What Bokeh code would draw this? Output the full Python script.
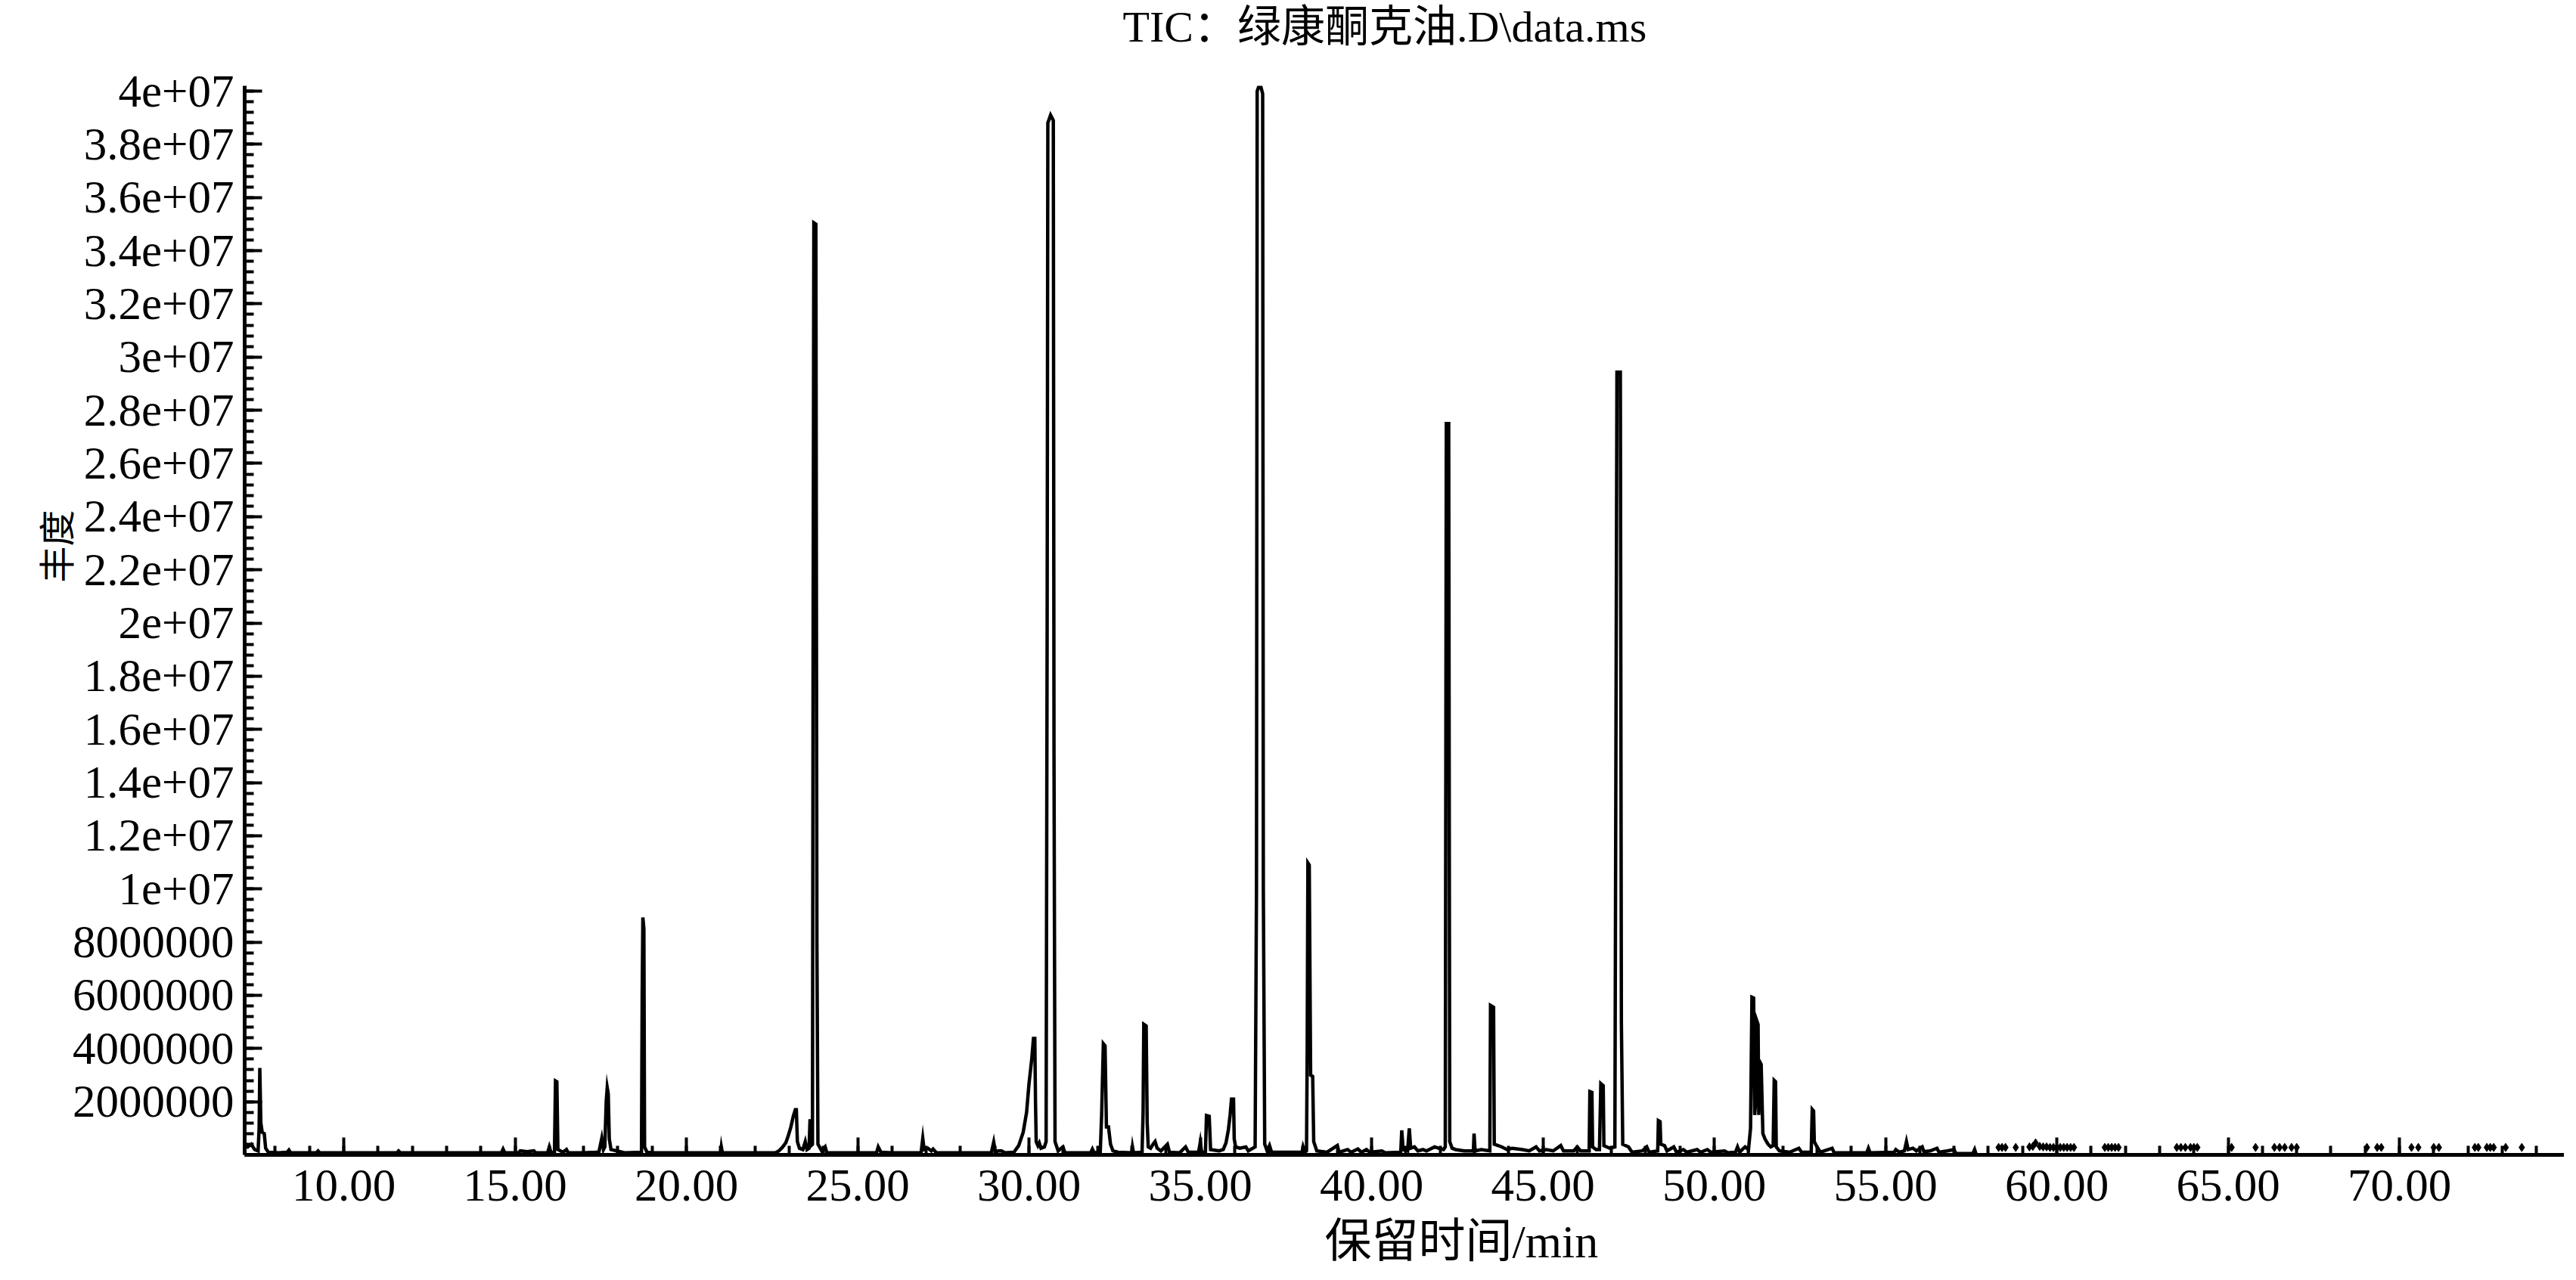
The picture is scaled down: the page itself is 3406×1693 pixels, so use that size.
import math
from bokeh.plotting import figure
from bokeh.models import (Range1d, FixedTicker, PrintfTickFormatter, Title,
                          ColumnDataSource)
from bokeh.embed import file_html
from bokeh.resources import INLINE

# ---------------- data ----------------
title_text = "TIC：绿康酮克油.D\\data.ms"
x_label_text = "保留时间/min"
y_label_text = "丰度"

# trace vertices: retention time (min) and abundance (millions of counts)
rt = [7.11, 7.20, 7.30, 7.40, 7.50, 7.53, 7.55, 7.58, 7.62, 7.68, 7.72, 7.80, 8.10, 8.35, 8.40, 8.45,
      9.20, 9.25, 9.30, 11.55, 11.60, 11.65, 14.60, 14.65, 14.70, 15.10, 15.15, 15.35, 15.55, 15.60,
      15.95, 16.00, 16.05, 16.15, 16.18, 16.22, 16.25, 16.40, 16.50, 16.55,
      17.00, 17.35, 17.45, 17.53, 17.58, 17.62, 17.66, 17.69, 17.72, 17.75, 17.80, 18.20, 18.69, 18.71,
      18.73, 18.76, 18.78, 18.85, 19.00, 21.00, 21.02, 21.05, 22.60, 22.70, 22.80, 22.90, 22.97, 23.05,
      23.12, 23.18, 23.21, 23.24, 23.30, 23.40, 23.47, 23.52, 23.58, 23.61, 23.64, 23.68, 23.70, 23.72,
      23.78, 23.81, 23.84, 23.95, 24.05, 24.10,
      25.00, 25.55, 25.60, 25.68, 26.00, 26.85, 26.90, 26.94, 27.05, 27.15, 27.20, 27.30, 28.90, 28.97,
      29.02, 29.10, 29.20, 29.30,
      29.56, 29.70, 29.83, 29.93, 30.00, 30.08, 30.13, 30.17, 30.19, 30.21, 30.26, 30.30, 30.35, 30.45,
      30.50, 30.53, 30.55, 30.63, 30.71, 30.73, 30.76, 30.85, 30.99, 31.05,
      31.80, 31.85, 31.90, 32.08, 32.12, 32.17, 32.22, 32.26, 32.32, 32.38, 32.45, 32.60, 33.00, 33.02,
      33.05, 33.30, 33.33, 33.35, 33.42, 33.45, 33.48, 33.55, 33.62, 33.68, 33.74, 33.85, 34.04, 34.10,
      34.40, 34.57, 34.65, 34.95, 35.00, 35.04, 35.15, 35.18, 35.26, 35.30, 35.55, 35.67, 35.75, 35.82,
      35.87, 35.91, 35.97, 35.99, 36.03, 36.15, 36.33, 36.40, 36.60, 36.64, 36.66, 36.74, 36.82, 36.84,
      36.88, 36.95, 37.02, 37.08,
      37.97, 38.00, 38.05, 38.10, 38.12, 38.14, 38.18, 38.22, 38.28, 38.31, 38.40, 38.70, 39.00, 39.05,
      39.30, 39.40, 39.60, 39.70, 39.85, 39.95, 40.30, 40.40,
      40.85, 40.88, 40.92, 41.05, 41.10, 41.14, 41.25, 41.35, 41.50, 41.60, 41.84, 41.95, 42.10, 42.15,
      42.18, 42.25, 42.28, 42.35, 42.45, 42.70, 42.97, 42.99, 43.02, 43.20, 43.45, 43.47, 43.56, 43.58,
      43.80, 43.95, 44.10, 44.40, 44.60, 44.80, 44.90, 45.10, 45.30, 45.52, 45.60, 45.90, 46.00, 46.10,
      46.35, 46.37, 46.43, 46.45, 46.55, 46.65, 46.69, 46.76, 46.78, 46.95, 47.10, 47.13, 47.16, 47.26,
      47.29, 47.33, 47.50, 47.60,
      47.90, 48.03, 48.10, 48.35, 48.37, 48.42, 48.44, 48.55, 48.62, 48.82, 48.90, 49.10, 49.20, 49.50,
      49.60, 49.80, 49.90, 50.30, 50.40, 50.62, 50.68, 50.74, 50.90, 51.00, 51.06, 51.10, 51.15, 51.18,
      51.21, 51.24, 51.28, 51.30, 51.33, 51.37, 51.42, 51.48, 51.57, 51.65, 51.72, 51.75, 51.79, 51.81,
      51.90, 52.20, 52.47, 52.55, 52.83, 52.86, 52.90, 52.92, 53.00, 53.10, 53.44, 53.50, 54.45, 54.50,
      54.55, 55.25, 55.30, 55.40, 55.55, 55.61, 55.66, 55.80, 55.90, 56.07, 56.12, 56.30, 56.50, 56.56,
      56.80, 57.00, 57.05, 57.55, 57.60, 57.65, 74.99]

abund_m = [0.45, 0.30, 0.40, 0.20, 0.15, 1.00, 3.27, 1.20, 0.85, 0.80, 0.25, 0.10, 0.08, 0.10, 0.18, 0.08,
           0.08, 0.15, 0.08, 0.08, 0.15, 0.08, 0.08, 0.22, 0.08, 0.08, 0.15, 0.12, 0.15, 0.08,
           0.08, 0.30, 0.08, 0.10, 2.78, 2.75, 0.20, 0.10, 0.20, 0.08,
           0.08, 0.10, 0.12, 0.62, 0.20, 0.30, 2.00, 2.53, 2.30, 0.60, 0.20, 0.08, 0.10, 6.00,
           8.93, 8.50, 0.30, 0.10, 0.08, 0.08, 0.30, 0.08, 0.08, 0.15, 0.28, 0.45, 0.70, 1.05,
           1.45, 1.70, 1.70, 0.50, 0.25, 0.20, 0.50, 0.20, 0.25, 1.34, 0.35, 0.40, 20.0, 35.05,
           35.00, 8.00, 0.40, 0.15, 0.30, 0.08,
           0.08, 0.08, 0.30, 0.10, 0.08, 0.08, 0.62, 0.20, 0.25, 0.15, 0.22, 0.08, 0.08, 0.48,
           0.10, 0.15, 0.15, 0.08,
           0.10, 0.35, 0.85, 1.60, 2.67, 3.60, 4.38, 4.38, 2.00, 0.50, 0.35, 0.45, 0.25, 0.30,
           0.50, 20.0, 38.8, 39.1, 38.9, 15.0, 0.50, 0.15, 0.30, 0.08,
           0.08, 0.22, 0.08, 0.10, 1.50, 4.18, 4.10, 1.05, 1.05, 0.40, 0.15, 0.10, 0.08, 0.30,
           0.08, 0.10, 1.60, 4.91, 4.85, 1.20, 0.30, 0.25, 0.40, 0.50, 0.25, 0.15, 0.40, 0.10,
           0.08, 0.30, 0.10, 0.10, 0.48, 0.10, 0.10, 1.48, 1.45, 0.20, 0.15, 0.20, 0.45, 0.95,
           1.50, 2.10, 2.10, 0.60, 0.30, 0.25, 0.30, 0.15, 0.30, 10.0, 40.0, 40.3, 39.9, 10.0,
           0.40, 0.15, 0.35, 0.10,
           0.10, 0.30, 0.10, 0.15, 4.00, 10.98, 10.90, 3.00, 2.95, 0.50, 0.15, 0.10, 0.35, 0.10,
           0.20, 0.10, 0.22, 0.10, 0.20, 0.10, 0.15, 0.08,
           0.10, 0.92, 0.20, 0.15, 1.00, 0.25, 0.30, 0.15, 0.20, 0.15, 0.30, 0.25, 0.20, 0.30,
           27.5, 27.5, 0.50, 0.25, 0.20, 0.15, 0.15, 0.80, 0.15, 0.20, 0.15, 5.62, 5.55, 0.40,
           0.30, 0.20, 0.25, 0.20, 0.15, 0.30, 0.15, 0.20, 0.15, 0.35, 0.15, 0.15, 0.30, 0.15,
           0.15, 2.38, 2.35, 0.30, 0.20, 0.20, 2.68, 2.60, 0.35, 0.25, 0.30, 15.0, 29.43, 29.43,
           5.00, 0.40, 0.30, 0.10,
           0.15, 0.30, 0.10, 0.15, 1.29, 1.25, 0.40, 0.35, 0.15, 0.30, 0.10, 0.20, 0.10, 0.20,
           0.10, 0.20, 0.10, 0.15, 0.08, 0.10, 0.30, 0.10, 0.30, 0.20, 1.00, 5.93, 5.90, 1.50,
           2.00, 5.05, 4.90, 1.50, 3.50, 3.40, 0.80, 0.60, 0.40, 0.30, 0.35, 2.80, 2.75, 0.30,
           0.15, 0.10, 0.25, 0.10, 0.10, 1.71, 1.65, 0.50, 0.30, 0.10, 0.25, 0.08, 0.08, 0.25,
           0.08, 0.10, 0.20, 0.10, 0.15, 0.50, 0.20, 0.25, 0.15, 0.30, 0.12, 0.15, 0.25, 0.10,
           0.15, 0.20, 0.05, 0.05, 0.20, 0.00, 0.00]

# isolated data points after 58 min (drawn as small dots just above the baseline)
dots_rt = [58.30, 58.40, 58.50, 58.80, 59.20, 59.30, 59.38, 59.50, 59.60, 59.70, 59.80, 59.90, 60.00,
           60.10, 60.20, 60.30, 60.40, 60.50, 61.40, 61.50, 61.60, 61.70, 61.80, 63.50, 63.62, 63.75,
           63.90, 64.00, 64.10, 65.10, 65.80, 66.35, 66.50, 66.65, 66.85, 67.00, 69.05, 69.35, 69.47,
           70.35, 70.55, 71.00, 71.15, 72.20, 72.30, 72.55, 72.65, 72.75, 73.10, 73.57]
dots_abund_m = [0.28, 0.28, 0.28, 0.28, 0.30, 0.32, 0.45, 0.32, 0.30, 0.30, 0.28, 0.28, 0.28,
                0.28, 0.28, 0.28, 0.28, 0.28, 0.28, 0.28, 0.28, 0.28, 0.28, 0.28, 0.28, 0.28,
                0.28, 0.28, 0.28, 0.28, 0.28, 0.28, 0.28, 0.28, 0.28, 0.28, 0.28, 0.28, 0.28,
                0.28, 0.28, 0.28, 0.28, 0.28, 0.28, 0.28, 0.28, 0.28, 0.28, 0.28]

x_major_ticks = [10, 15, 20, 25, 30, 35, 40, 45, 50, 55, 60, 65, 70]
x_minor_ticks = list(range(8, 75))
y_major_ticks = [0, 2000000, 4000000, 6000000, 8000000, 10000000, 12000000, 14000000, 16000000,
                 18000000, 20000000, 22000000, 24000000, 26000000, 28000000, 30000000, 32000000,
                 34000000, 36000000, 38000000, 40000000]
y_tick_labels = ["", "2000000", "4000000", "6000000", "8000000", "1e+07", "1.2e+07", "1.4e+07",
                 "1.6e+07", "1.8e+07", "2e+07", "2.2e+07", "2.4e+07", "2.6e+07", "2.8e+07", "3e+07",
                 "3.2e+07", "3.4e+07", "3.6e+07", "3.8e+07", "4e+07"]
y_minor_ticks = [i * 400000 for i in range(0, 101)]

# ---------------- figure ----------------
SERIF = "Liberation Serif, Noto Sans CJK SC"

p = figure(width=3390, height=1677, output_backend="svg", toolbar_location=None,
           x_range=Range1d(7.108, 74.81), y_range=Range1d(0, 40.2e6),
           min_border_left=323, min_border_right=0, min_border_top=113, min_border_bottom=150)
p.outline_line_color = None
p.xgrid.visible = False
p.ygrid.visible = False
p.background_fill_color = "white"
p.border_fill_color = "white"

src = ColumnDataSource(dict(x=rt, y=[v * 1e6 for v in abund_m]))
p.line("x", "y", source=src, line_color="black", line_width=4.5, line_join="miter")
dsrc = ColumnDataSource(dict(x=dots_rt, y=[v * 1e6 for v in dots_abund_m]))
p.scatter("x", "y", source=dsrc, marker="diamond", size=11, color="black")

for ax in (p.xaxis[0], p.yaxis[0]):
    ax.axis_line_width = 5
    ax.axis_line_color = "black"
    ax.major_tick_in = 23
    ax.major_tick_out = 0
    ax.minor_tick_in = 12
    ax.minor_tick_out = 0
    ax.major_tick_line_width = 4
    ax.minor_tick_line_width = 4
    ax.major_tick_line_color = "black"
    ax.minor_tick_line_color = "black"
    ax.major_label_text_font = "Liberation Serif"
    ax.major_label_text_font_size = "61px"
    ax.major_label_text_color = "black"

p.xaxis.ticker = FixedTicker(ticks=x_major_ticks, minor_ticks=x_minor_ticks)
p.xaxis.formatter = PrintfTickFormatter(format="%.2f")
p.xaxis.major_label_standoff = 20

p.yaxis.ticker = FixedTicker(ticks=y_major_ticks, minor_ticks=y_minor_ticks)
p.yaxis.major_label_overrides = {t: s for t, s in zip(y_major_ticks, y_tick_labels)}
p.yaxis.major_label_standoff = 14

# --- title: a thin spacer next to the frame, then the title text above it ---
p.add_layout(Title(text=" ", text_font_size="1px", standoff=43), "above")
p.add_layout(Title(text=title_text, align="left", offset=1161, text_font=SERIF,
                   text_font_size="58px", text_font_style="normal", text_color="black",
                   standoff=0), "above")

# --- x axis title: spacer below the tick labels, then the label ---
p.add_layout(Title(text=" ", text_font_size="1px", standoff=12), "below")
p.add_layout(Title(text=x_label_text, align="left", offset=1428, text_font=SERIF,
                   text_font_size="62px", text_font_style="normal", text_color="black",
                   standoff=0), "below")

# --- y axis title ---
p.add_layout(Title(text=y_label_text, align="left", offset=757, text_font=SERIF,
                   text_font_size="48px", text_font_style="normal", text_color="black",
                   standoff=-20), "left")

open("out.html", "w").write(file_html(p, INLINE))
